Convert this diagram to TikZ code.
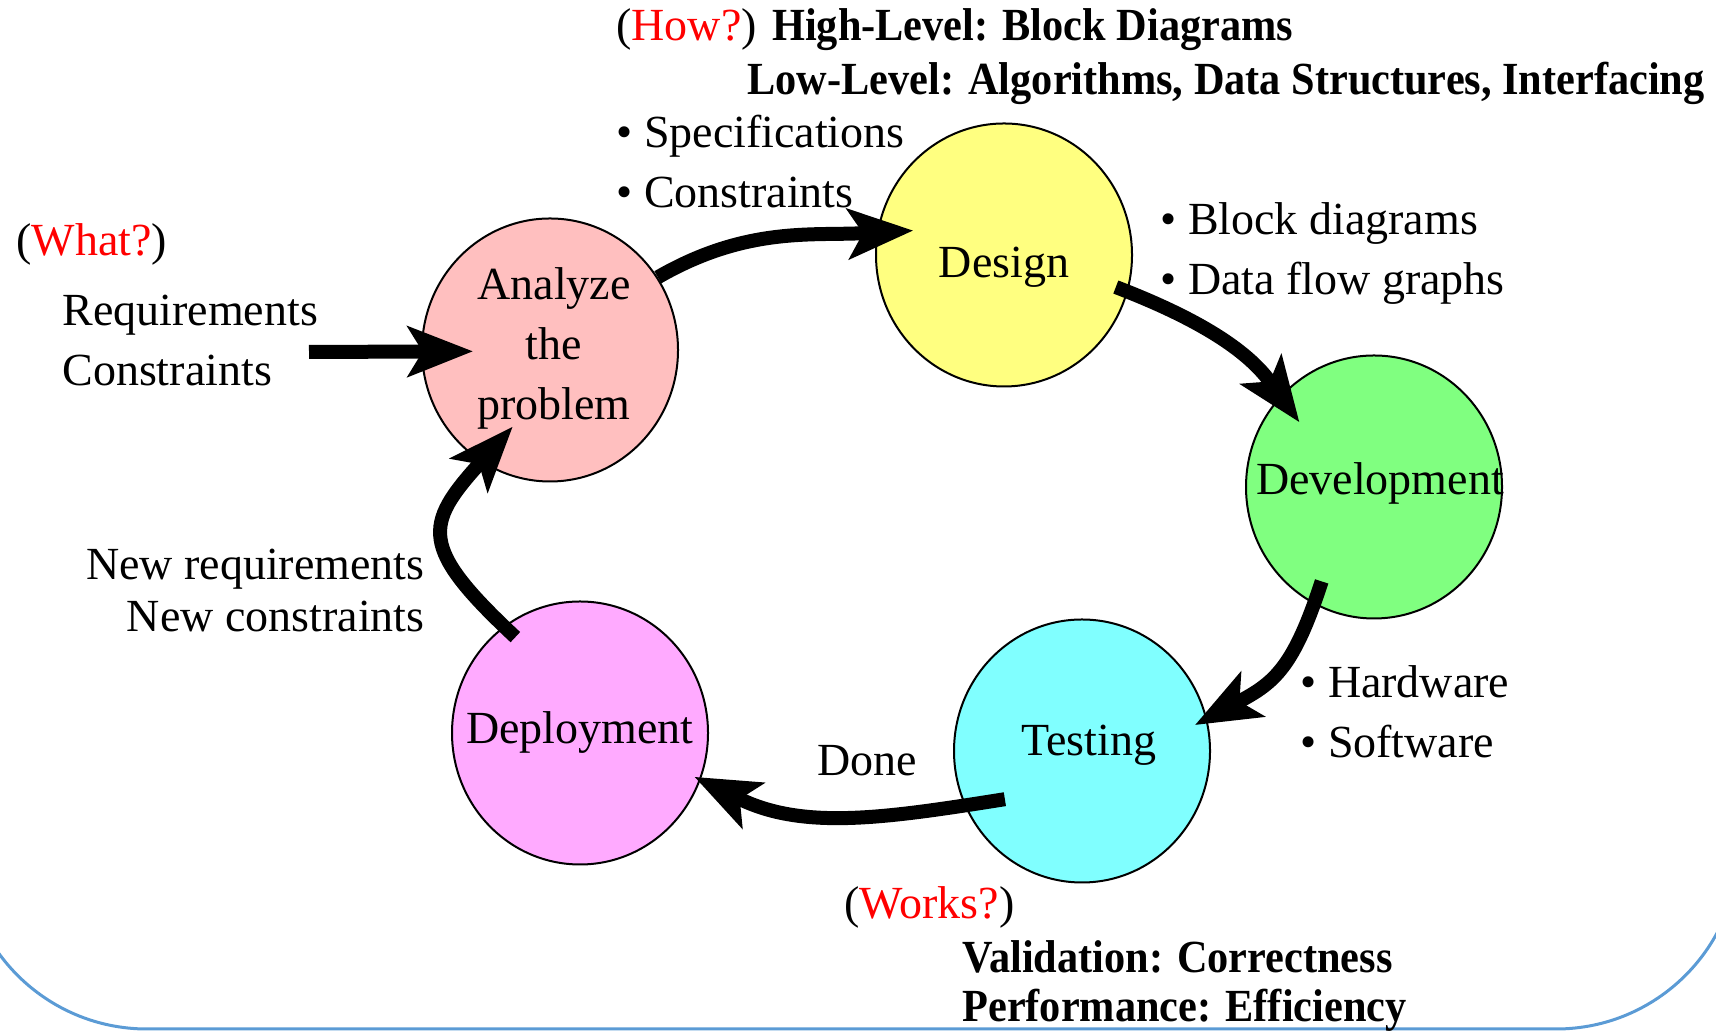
\documentclass[tikz,border=0pt]{standalone}
\usepackage{fontspec}
\setmainfont{Liberation Serif}
\usepackage{graphicx}
\usetikzlibrary{shapes.geometric,arrows.meta,calc}

\definecolor{anafill}{RGB}{255,191,191}
\definecolor{desfill}{RGB}{255,255,128}
\definecolor{devfill}{RGB}{128,255,128}
\definecolor{tstfill}{RGB}{128,255,255}
\definecolor{depfill}{RGB}{255,170,255}
\definecolor{framecol}{RGB}{91,155,213}

\newcommand{\hd}[1]{\scalebox{0.92}[1]{\bfseries #1}}

\begin{document}
\begin{tikzpicture}[x=0.5pt,y=0.5pt,
    font=\fontsize{23pt}{30pt}\selectfont,
    stage/.style={ellipse, draw, line width=1pt, inner sep=0pt, minimum width=128pt, minimum height=131.5pt},
    flow/.style={line width=7pt, -{Stealth[length=33pt,width=26pt,inset=8pt,line width=1pt]}},
    txt/.style={anchor=base west, inner sep=0pt, align=left}]

  \useasboundingbox (0,0) rectangle (1716,1031);
  \draw[framecol, line width=1.5pt, rounded corners=91.5pt] (-36,2) rectangle (1739,1300);

  % the five stages
  \node[stage, fill=anafill, label={[align=center,xshift=2pt,yshift=1pt]center:Analyze\\the\\problem}] (ana) at (550,681) {};
  \node[stage, fill=desfill, label={[yshift=-6pt]center:Design}] (des) at (1004,776) {};
  \node[stage, fill=devfill, label={[xshift=3pt,yshift=2pt]center:Development}] (dev) at (1374,544) {};
  \node[stage, fill=tstfill, label={[xshift=3.5pt,yshift=3pt]center:Testing}] (tst) at (1082,280) {};
  \node[stage, fill=depfill, label=center:Deployment] (dep) at (580,298) {};

  % arrows round the cycle
  \coordinate (reqin) at (309,679);
  \draw[flow] (reqin) -- ($(ana.center)!0.6!(ana.181)$);
  \draw[flow] (ana.34) to[out=30,in=183] ($(des.center)!0.73!(des.165)$);
  \draw[flow] ($(des.center)!0.9!(des.-16)$) to[out=-21,in=126] ($(dev.center)!0.76!(dev.139)$);
  \draw[flow] ($(dev.center)!0.82!(dev.-119)$) to[out=-108,in=28,looseness=1.2] ($(tst.center)!0.9!(tst.13)$);
  \draw[flow] ($(tst.center)!0.7!(tst.-148)$) to[out=189,in=-26] ($(dep.center)!0.95!(dep.-21)$);
  \draw[flow] ($(dep.center)!0.88!(dep.124)$) to[out=137,in=-132,looseness=1.6] ($(ana.center)!0.65!(ana.-116)$);

  % notes (multi-line nodes sit on their last line)
  \node[txt] (what) at (16,775) {(\textcolor{red}{What?})};
  \node[txt] (req) at (62,645) {Requirements\\Constraints};
  \node[txt] (spec) at (616,823) {\textbullet{} Specifications\\\textbullet{} Constraints};
  \node[txt] (how) at (616,990) {(\textcolor{red}{How?}) \hd{High-Level: Block Diagrams}};
  \node[txt] (low) at (747,936) {\hd{Low-Level: Algorithms, Data Structures, Interfacing}};
  \node[txt] (blk) at (1160,736) {\textbullet{} Block diagrams\\\textbullet{} Data flow graphs};
  \node[txt] (hw) at (1300,273) {\textbullet{} Hardware\\\textbullet{} Software};
  \node[anchor=base, inner sep=0pt] (done) at (867,255) {Done};
  \node[txt] (works) at (844,112) {(\textcolor{red}{Works?})};
  \node[txt] (val) at (962,9) {\hd{Validation: Correctness}\\[-5.5pt]\hd{Performance: Efficiency}};
  \node[anchor=base east, inner sep=0pt, align=right] (newreq) at (425,399) {New requirements\\[-4pt]New constraints};
\end{tikzpicture}
\end{document}
